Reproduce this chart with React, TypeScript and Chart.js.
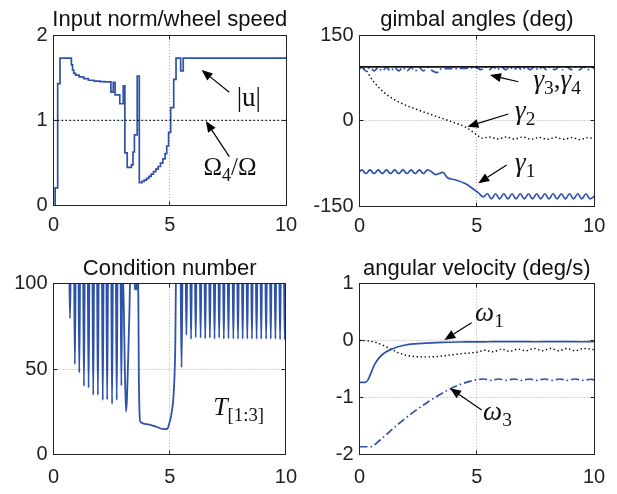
import { useEffect, useRef } from 'react';
import { Chart, registerables } from 'chart.js';

Chart.register(...registerables);

const BLUE = '#2f52a9';
const INK = '#222222';
const SANS = '"Liberation Sans", Arial, sans-serif';
const SERIF = '"Liberation Serif", "Times New Roman", serif';

// ---------- shared ticks ----------
const xTicks = [0, 5, 10];
const yTicksU = [0, 1, 2];
const yTicksG = [-150, 0, 150];
const yTicksC = [0, 50, 100];
const yTicksW = [-2, -1, 0, 1];

// ---------- panel 1: input norm / wheel speed ----------
const uT = [0, 0.07, 0.18, 0.28, 0.77, 0.82, 0.87, 0.95, 1.1, 1.3, 1.5, 1.75, 2.0, 2.2, 2.47, 2.57, 2.65, 2.85, 3.0, 3.07, 3.17, 3.35, 3.42, 3.48, 3.6, 3.69, 3.8, 3.9, 4.0, 4.1, 4.2, 4.3, 4.4, 4.5, 4.6, 4.7, 4.8, 4.87, 4.95, 5.04, 5.17, 5.27, 5.47, 5.58, 10];
const uV = [0, 0.21, 1.43, 1.73, 1.65, 1.59, 1.55, 1.53, 1.51, 1.49, 1.47, 1.46, 1.455, 1.45, 1.33, 1.445, 1.3, 1.195, 1.405, 0.62, 0.45, 0.48, 0.63, 0.83, 1.52, 0.27, 0.285, 0.3, 0.32, 0.345, 0.37, 0.4, 0.43, 0.46, 0.5, 0.55, 0.61, 0.7, 0.86, 1.15, 1.48, 1.73, 1.58, 1.73, 1.73];
const ratioT = [0, 10];
const ratioV = [1, 1];

// ---------- panel 2: gimbal angles ----------
const limitT = [0, 10];
const limitV = [94, 94];
const g3T = [0, 0.1, 0.27, 0.45, 0.62, 0.8, 0.97, 1.15, 1.32, 1.5, 1.67, 1.85, 2.02, 2.2, 2.37, 2.55, 2.72, 2.9, 3.07, 3.3, 3.5, 4.0, 4.5, 5.0,
  5.17, 5.35, 5.52, 5.7, 5.87, 6.05, 6.22, 6.4, 6.57, 6.75, 6.92, 7.1, 7.27, 7.45, 7.62, 7.8, 7.97, 8.15, 8.32, 8.5, 8.67, 8.85, 9.02, 9.2, 9.37, 9.55, 9.72, 9.9, 10];
const g3V = [92, 93, 87, 93, 87, 93, 87, 93, 87, 93, 87, 93, 87, 93, 87, 93, 87, 93, 88, 84, 91, 91, 91.5, 92.5,
  89, 94, 89, 94, 89, 94, 89, 94, 89, 94, 89, 94, 89, 94, 89, 94, 89, 94, 89, 94, 89, 94, 89, 94, 89, 94, 89, 94, 91];
const g2T = [0, 0.24, 0.53, 1.03, 1.74, 2.45, 3.16, 3.86, 4.57, 5.07, 5.2, 5.55, 5.9, 6.25, 6.6, 6.95, 7.3, 7.65, 8.0, 8.35, 8.7, 9.05, 9.4, 9.75, 10];
const g2V = [92, 89.6, 72, 49.7, 31, 19.3, 8.8, -1.2, -12.8, -27.5, -31, -29, -32.5, -29, -32.5, -29, -33, -29.5, -33, -29.5, -33, -30, -33.5, -30, -32];
const g1T = [0, 0.1, 0.27, 0.45, 0.62, 0.8, 0.97, 1.15, 1.32, 1.5, 1.67, 1.85, 2.02, 2.2, 2.37, 2.55, 2.72, 2.9, 3.07, 3.24, 3.55, 3.75, 4.07, 4.5, 4.79, 5.07, 5.28,
  5.45, 5.62, 5.8, 5.97, 6.15, 6.32, 6.5, 6.67, 6.85, 7.02, 7.2, 7.37, 7.55, 7.72, 7.9, 8.07, 8.25, 8.42, 8.6, 8.77, 8.95, 9.12, 9.3, 9.47, 9.65, 9.82, 10];
const g1V = [-90, -86.5, -93, -86.5, -93, -86.5, -93, -86.5, -93, -86.5, -93, -86.5, -93, -86.5, -93, -86.5, -93, -86.5, -90, -95, -91, -100.5, -104, -110.7, -118.3, -127, -134,
  -128.5, -137.5, -128.5, -137.5, -128.5, -137.5, -128.5, -137.5, -128.5, -137.5, -128.5, -137.5, -128.5, -137.5, -128.5, -137.5, -128.5, -137.5, -128.5, -137.5, -128.5, -137.5, -128.5, -137.5, -128.5, -137.5, -133];

// ---------- panel 3: condition number ----------
const condSpikeT = [0.71, 0.92, 1.11, 1.31, 1.51, 1.71, 1.91, 2.12, 2.31, 2.52, 2.72, 2.92,
  5.51, 5.72, 5.92, 6.12, 6.33, 6.53, 6.73, 6.93, 7.13, 7.33, 7.53, 7.74, 7.94, 8.14, 8.34, 8.54, 8.74, 8.94, 9.15, 9.35, 9.55, 9.75, 9.95];
const condSpikeV = [79.7, 52.9, 47.8, 40, 39, 34.8, 34.8, 31.8, 32, 29.5, 31.8, 40.2,
  50.9, 70, 67.5, 68.5, 68.3, 67.8, 68.3, 67.6, 68.3, 67.6, 68, 67.6, 67.6, 67.6, 67.6, 67.6, 67.6, 67.6, 67.6, 67.6, 67.6, 67.3, 67.3];
const condValleyT = [0, 2.97, 3.02, 3.07, 3.12, 3.16, 3.21, 3.27, 3.31, 3.47, 3.5, 3.54, 3.58, 3.61, 3.64, 3.67, 3.7, 3.74, 4.0, 4.43, 4.72, 4.89, 4.98, 5.08, 5.18, 5.24, 5.28, 10];
const condValleyV = [118, 115, 90, 50, 25, 32, 55, 85, 112, 112, 96.5, 99, 96.5, 112, 110, 50, 25, 19, 17.7, 16.1, 14.8, 14.9, 18, 24, 37.6, 63, 112, 118];

// ---------- panel 4: angular velocity ----------
const w1T = [0, 0.24, 0.35, 0.46, 0.67, 0.96, 1.38, 1.95, 2.67, 3.52, 4.5, 5.5, 6.5, 7.5, 8.5, 9.5, 10];
const w1V = [-0.735, -0.735, -0.7, -0.6, -0.4, -0.25, -0.149, -0.079, -0.05, -0.032, -0.025, -0.022, -0.02, -0.022, -0.02, -0.022, -0.018];
const w2T = [0, 0.3, 0.67, 1.24, 1.67, 2.24, 2.95, 3.66, 4.38, 5.0, 5.35, 5.7, 6.05, 6.4, 6.75, 7.1, 7.45, 7.8, 8.15, 8.5, 8.85, 9.2, 9.55, 10];
const w2V = [0, -0.005, -0.03, -0.13, -0.217, -0.277, -0.288, -0.265, -0.23, -0.206, -0.17, -0.2, -0.15, -0.19, -0.15, -0.18, -0.14, -0.18, -0.14, -0.18, -0.14, -0.18, -0.14, -0.16];
const w3T = [0, 0.46, 0.88, 1.53, 2.24, 2.95, 3.66, 4.38, 5.0, 5.3, 5.6, 5.95, 6.25, 6.6, 6.9, 7.25, 7.55, 7.9, 8.2, 8.55, 8.85, 9.2, 9.5, 9.85, 10];
const w3V = [-1.864, -1.864, -1.746, -1.51, -1.275, -1.07, -0.894, -0.758, -0.688, -0.675, -0.7, -0.675, -0.7, -0.675, -0.7, -0.675, -0.7, -0.675, -0.7, -0.675, -0.7, -0.675, -0.7, -0.68, -0.69];

// ---------- helpers ----------
type Pt = { x: number; y: number };
const pts = (xs: number[], ys: number[]): Pt[] => xs.map((x, i) => ({ x, y: ys[i] }));

function condPoints(): Pt[] {
  const out: Pt[] = pts(condValleyT, condValleyV);
  condSpikeT.forEach((c, i) => {
    const half = i === 12 ? 0.055 : 0.045;
    out.push({ x: c - half, y: 118 }, { x: c, y: condSpikeV[i] }, { x: c + half, y: 118 });
  });
  return out.sort((a, b) => a.x - b.x);
}

const solid = (data: Pt[], color = BLUE, w = 1.7) => ({
  data, borderColor: color, borderWidth: w, pointRadius: 0, fill: false,
  cubicInterpolationMode: 'monotone' as const,
});
const dotted = (data: Pt[]) => ({ ...solid(data, '#000', 1.4), borderDash: [1.4, 2.6] });
const dashDot = (data: Pt[]) => ({ ...solid(data), borderDash: [8, 3, 1.6, 3] });

type Part = { s: string; it?: boolean; sub?: boolean };
type Label = { at: [number, number]; parts: Part[]; size: number };
type Arrow = { from: [number, number]; to: [number, number] };
type PanelCfg = {
  box: { left: number; top: number; w: number; h: number };
  area: { l: number; t: number; r: number; b: number };
  title: string;
  yTicks: number[];
  xPad: number;
  datasets: any[];
  labels: Label[];
  arrows: Arrow[];
};

const XAXIS_H = 32;

const panels: PanelCfg[] = [
  {
    box: { left: 0, top: 0, w: 308, h: 245 },
    area: { l: 53.5, t: 35, r: 286, b: 205.8 },
    title: 'Input norm/wheel speed',
    yTicks: yTicksU,
    xPad: 8,
    datasets: [
      dotted(pts(ratioT, ratioV)),
      { ...solid(pts(uT, uV)), stepped: true },
    ],
    labels: [
      { at: [7.88, 1.17], parts: [{ s: '|u|' }], size: 27 },
      { at: [6.45, 0.36], parts: [{ s: 'Ω' }, { s: '4', sub: true }, { s: '/Ω' }], size: 25 },
    ],
    arrows: [
      { from: [7.56, 1.33], to: [6.37, 1.59] },
      { from: [7.56, 0.575], to: [6.55, 0.993] },
    ],
  },
  {
    box: { left: 308, top: 0, w: 309, h: 245 },
    area: { l: 51.5, t: 35, r: 286.2, b: 206 },
    title: 'gimbal angles (deg)',
    yTicks: yTicksG,
    xPad: 8,
    datasets: [
      solid(pts(limitT, limitV), '#111', 1.6),
      dashDot(pts(g3T, g3V)),
      dotted(pts(g2T, g2V)),
      solid(pts(g1T, g1V)),
    ],
    labels: [
      { at: [7.41, 57], parts: [{ s: 'γ', it: true }, { s: '3', sub: true }, { s: ',' }, { s: 'γ', it: true }, { s: '4', sub: true }], size: 27 },
      { at: [6.63, 3], parts: [{ s: 'γ', it: true }, { s: '2', sub: true }], size: 27 },
      { at: [6.63, -88.6], parts: [{ s: 'γ', it: true }, { s: '1', sub: true }], size: 27 },
    ],
    arrows: [
      { from: [6.77, 68], to: [5.56, 79.8] },
      { from: [6.34, 11.4], to: [4.6, -10.9] },
      { from: [6.27, -78], to: [5.06, -110.2] },
    ],
  },
  {
    box: { left: 0, top: 245, w: 308, h: 249 },
    area: { l: 53.5, t: 38.7, r: 286, b: 209.3 },
    title: 'Condition number',
    yTicks: yTicksC,
    xPad: 11,
    datasets: [solid(condPoints(), BLUE, 1.8)],
    labels: [
      { at: [6.87, 23], parts: [{ s: 'T', it: true }, { s: '[1:3]', sub: true }], size: 26 },
    ],
    arrows: [],
  },
  {
    box: { left: 308, top: 245, w: 309, h: 249 },
    area: { l: 51.5, t: 38.5, r: 286, b: 209.5 },
    title: 'angular velocity (deg/s)',
    yTicks: yTicksW,
    xPad: 11,
    datasets: [
      solid(pts(w1T, w1V)),
      dotted(pts(w2T, w2V)),
      dashDot(pts(w3T, w3V)),
    ],
    labels: [
      { at: [4.93, 0.342], parts: [{ s: 'ω', it: true }, { s: '1', sub: true }], size: 27 },
      { at: [5.27, -1.395], parts: [{ s: 'ω', it: true }, { s: '3', sub: true }], size: 27 },
    ],
    arrows: [
      { from: [4.78, 0.312], to: [3.62, 0.009] },
      { from: [5.21, -1.219], to: [3.86, -0.839] },
    ],
  },
];

function drawParts(ctx: CanvasRenderingContext2D, x: number, y: number, parts: Part[], size: number) {
  let cx = x;
  ctx.textAlign = 'left';
  ctx.textBaseline = 'alphabetic';
  ctx.fillStyle = '#111';
  for (const p of parts) {
    const fs = p.sub ? size * 0.72 : size;
    ctx.font = `${p.it ? 'italic ' : ''}${fs}px ${SERIF}`;
    const dy = p.sub ? size * 0.22 : 0;
    ctx.fillText(p.s, cx, y + dy);
    cx += ctx.measureText(p.s).width;
  }
}

function decor(cfg: PanelCfg) {
  return {
    id: 'decor',
    beforeDatasetsDraw(chart: any) {
      const { ctx, chartArea: a, scales } = chart;
      const xs = scales.x, ys = scales.y;
      ctx.save();
      ctx.strokeStyle = 'rgba(0,0,0,0.32)';
      ctx.lineWidth = 1;
      ctx.setLineDash([1, 2]);
      const xMin = xTicks[0], xMax = xTicks[xTicks.length - 1];
      for (const v of xTicks) {
        if (v <= xMin || v >= xMax) continue;
        const px = Math.floor(xs.getPixelForValue(v)) + 0.5;
        ctx.beginPath(); ctx.moveTo(px, a.top); ctx.lineTo(px, a.bottom); ctx.stroke();
      }
      const yt = cfg.yTicks;
      for (const v of yt) {
        if (v <= yt[0] || v >= yt[yt.length - 1]) continue;
        const py = Math.floor(ys.getPixelForValue(v)) + 0.5;
        ctx.beginPath(); ctx.moveTo(a.left, py); ctx.lineTo(a.right, py); ctx.stroke();
      }
      ctx.restore();
    },
    afterDatasetsDraw(chart: any) {
      const { ctx, chartArea: a, scales } = chart;
      const xs = scales.x, ys = scales.y;
      ctx.save();
      ctx.strokeStyle = INK;
      ctx.lineWidth = 1;
      ctx.setLineDash([]);
      const L = Math.floor(a.left) + 0.5, R = Math.floor(a.right) + 0.5;
      const T = Math.floor(a.top) + 0.5, B = Math.floor(a.bottom) + 0.5;
      ctx.strokeRect(L, T, R - L, B - T);
      const tl = 4;
      for (const v of xTicks) {
        const px = Math.floor(xs.getPixelForValue(v)) + 0.5;
        ctx.beginPath();
        ctx.moveTo(px, B); ctx.lineTo(px, B - tl);
        ctx.moveTo(px, T); ctx.lineTo(px, T + tl);
        ctx.stroke();
      }
      for (const v of cfg.yTicks) {
        const py = Math.floor(ys.getPixelForValue(v)) + 0.5;
        ctx.beginPath();
        ctx.moveTo(L, py); ctx.lineTo(L + tl, py);
        ctx.moveTo(R, py); ctx.lineTo(R - tl, py);
        ctx.stroke();
      }
      ctx.restore();
    },
    afterDraw(chart: any) {
      const { ctx, chartArea: a, scales } = chart;
      const xs = scales.x, ys = scales.y;
      ctx.save();
      ctx.font = `22px ${SANS}`;
      ctx.fillStyle = '#111';
      ctx.textAlign = 'center';
      ctx.textBaseline = 'alphabetic';
      ctx.fillText(cfg.title, (a.left + a.right) / 2, a.top - 9);
      for (const ar of cfg.arrows) {
        const x1 = xs.getPixelForValue(ar.from[0]), y1 = ys.getPixelForValue(ar.from[1]);
        const x2 = xs.getPixelForValue(ar.to[0]), y2 = ys.getPixelForValue(ar.to[1]);
        const ang = Math.atan2(y2 - y1, x2 - x1);
        const hl = 11, hw = 4.5;
        const bx = x2 - hl * Math.cos(ang), by = y2 - hl * Math.sin(ang);
        ctx.strokeStyle = '#000';
        ctx.lineWidth = 1.2;
        ctx.beginPath(); ctx.moveTo(x1, y1); ctx.lineTo(bx, by); ctx.stroke();
        ctx.fillStyle = '#000';
        ctx.beginPath();
        ctx.moveTo(x2, y2);
        ctx.lineTo(bx + hw * Math.sin(ang), by - hw * Math.cos(ang));
        ctx.lineTo(bx - hw * Math.sin(ang), by + hw * Math.cos(ang));
        ctx.closePath();
        ctx.fill();
      }
      for (const lb of cfg.labels) {
        drawParts(ctx, xs.getPixelForValue(lb.at[0]), ys.getPixelForValue(lb.at[1]), lb.parts, lb.size);
      }
      ctx.restore();
    },
  };
}

function Panel({ cfg }: { cfg: PanelCfg }) {
  const ref = useRef<HTMLCanvasElement | null>(null);
  useEffect(() => {
    const { box, area, yTicks } = cfg;
    const tickFont = { family: SANS, size: 20 };
    const chart = new Chart(ref.current as HTMLCanvasElement, {
      type: 'line',
      data: { datasets: cfg.datasets },
      options: {
        responsive: false,
        animation: false,
        devicePixelRatio: 1,
        layout: { padding: { left: 0, top: area.t, right: box.w - area.r, bottom: box.h - area.b - XAXIS_H } },
        plugins: { legend: { display: false }, tooltip: { enabled: false }, title: { display: false } },
        elements: { point: { radius: 0 } },
        scales: {
          x: {
            type: 'linear',
            min: xTicks[0],
            max: xTicks[xTicks.length - 1],
            afterBuildTicks: (s: any) => { s.ticks = xTicks.map((v) => ({ value: v })); },
            afterFit: (s: any) => { s.height = XAXIS_H; },
            ticks: { autoSkip: false, maxRotation: 0, padding: cfg.xPad, color: INK, font: tickFont },
            grid: { display: false, drawTicks: false },
            border: { display: false },
          },
          y: {
            type: 'linear',
            min: yTicks[0],
            max: yTicks[yTicks.length - 1],
            afterBuildTicks: (s: any) => { s.ticks = yTicks.map((v) => ({ value: v })); },
            afterFit: (s: any) => { s.width = area.l; },
            ticks: { autoSkip: false, padding: 6, color: INK, font: tickFont },
            grid: { display: false, drawTicks: false },
            border: { display: false },
          },
        },
      } as any,
      plugins: [decor(cfg)],
    });
    return () => chart.destroy();
  }, [cfg]);
  const { box } = cfg;
  return (
    <canvas
      ref={ref}
      width={box.w}
      height={box.h}
      style={{ position: 'absolute', left: box.left, top: box.top, width: box.w, height: box.h }}
    />
  );
}

export default function App() {
  return (
    <div style={{ position: 'fixed', left: 0, top: 0, width: 617, height: 494, background: '#fff', overflow: 'hidden' }}>
      {panels.map((p, i) => (
        <Panel key={i} cfg={p} />
      ))}
    </div>
  );
}
